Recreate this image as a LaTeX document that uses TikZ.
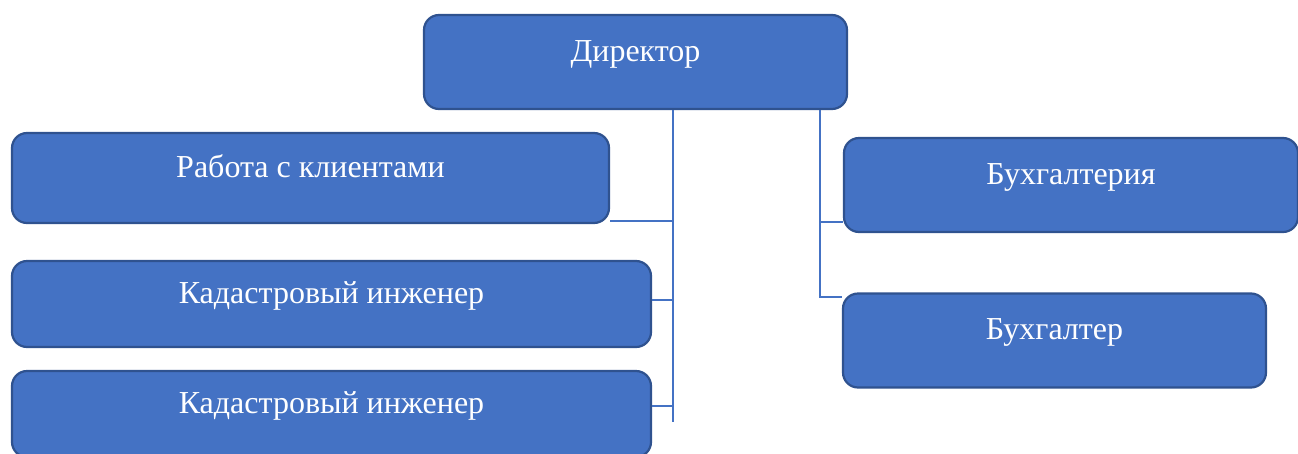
\documentclass[tikz,border=0pt]{standalone}
\usepackage{fontspec}
\setmainfont{Liberation Serif}
\definecolor{blau}{HTML}{4472C4}
\definecolor{blaurand}{HTML}{2F528F}

\def\stelle#1#2#3#4#5{
	\node[stelle,minimum width=#4pt,minimum height=#5pt] (#1) at (#2) {#3};
}

\begin{document}
\begin{tikzpicture}[x=1pt,y=-1pt,
	stelle/.style={draw=blaurand,fill=blau,line width=2.2pt,rounded corners=15pt,
		text=white,inner sep=0pt,text height=22pt,text depth=24pt,
		font=\fontsize{32}{38}\selectfont},
	linie/.style={draw=blau,line width=1.2pt}]
\useasboundingbox (0,0) rectangle (1298,453);

% Kaesten
\stelle{dir}{635.5,62}{Директор}{423}{94}
\stelle{klient}{310.5,178}{Работа с клиентами}{597}{90}
\stelle{kad1}{331.5,304}{Кадастровый инженер}{639}{86}
\stelle{kad2}{331.5,414}{Кадастровый инженер}{639}{86}
\stelle{buhg}{1071,185}{Бухгалтерия}{454}{94}
\stelle{buhr}{1054.5,340.5}{Бухгалтер}{423}{94}

% Linien links
\coordinate (lu) at (673,422);
\draw[linie] (dir.south -| lu) -- (lu);
\coordinate (l1) at (673,221);
\coordinate (l2) at (673,300);
\coordinate (l3) at (673,406);
\draw[linie] (l1) -- (l1 -| klient.east);
\draw[linie] (l2) -- (l2 -| kad1.east);
\draw[linie] (l3) -- (l3 -| kad2.east);

% Linien rechts
\coordinate (ru) at (820,297);
\coordinate (r1) at (820,222);
\draw[linie] (dir.south -| ru) -- (ru) -- (ru -| buhr.west);
\draw[linie] (r1) -- (r1 -| buhg.west);
\end{tikzpicture}
\end{document}
